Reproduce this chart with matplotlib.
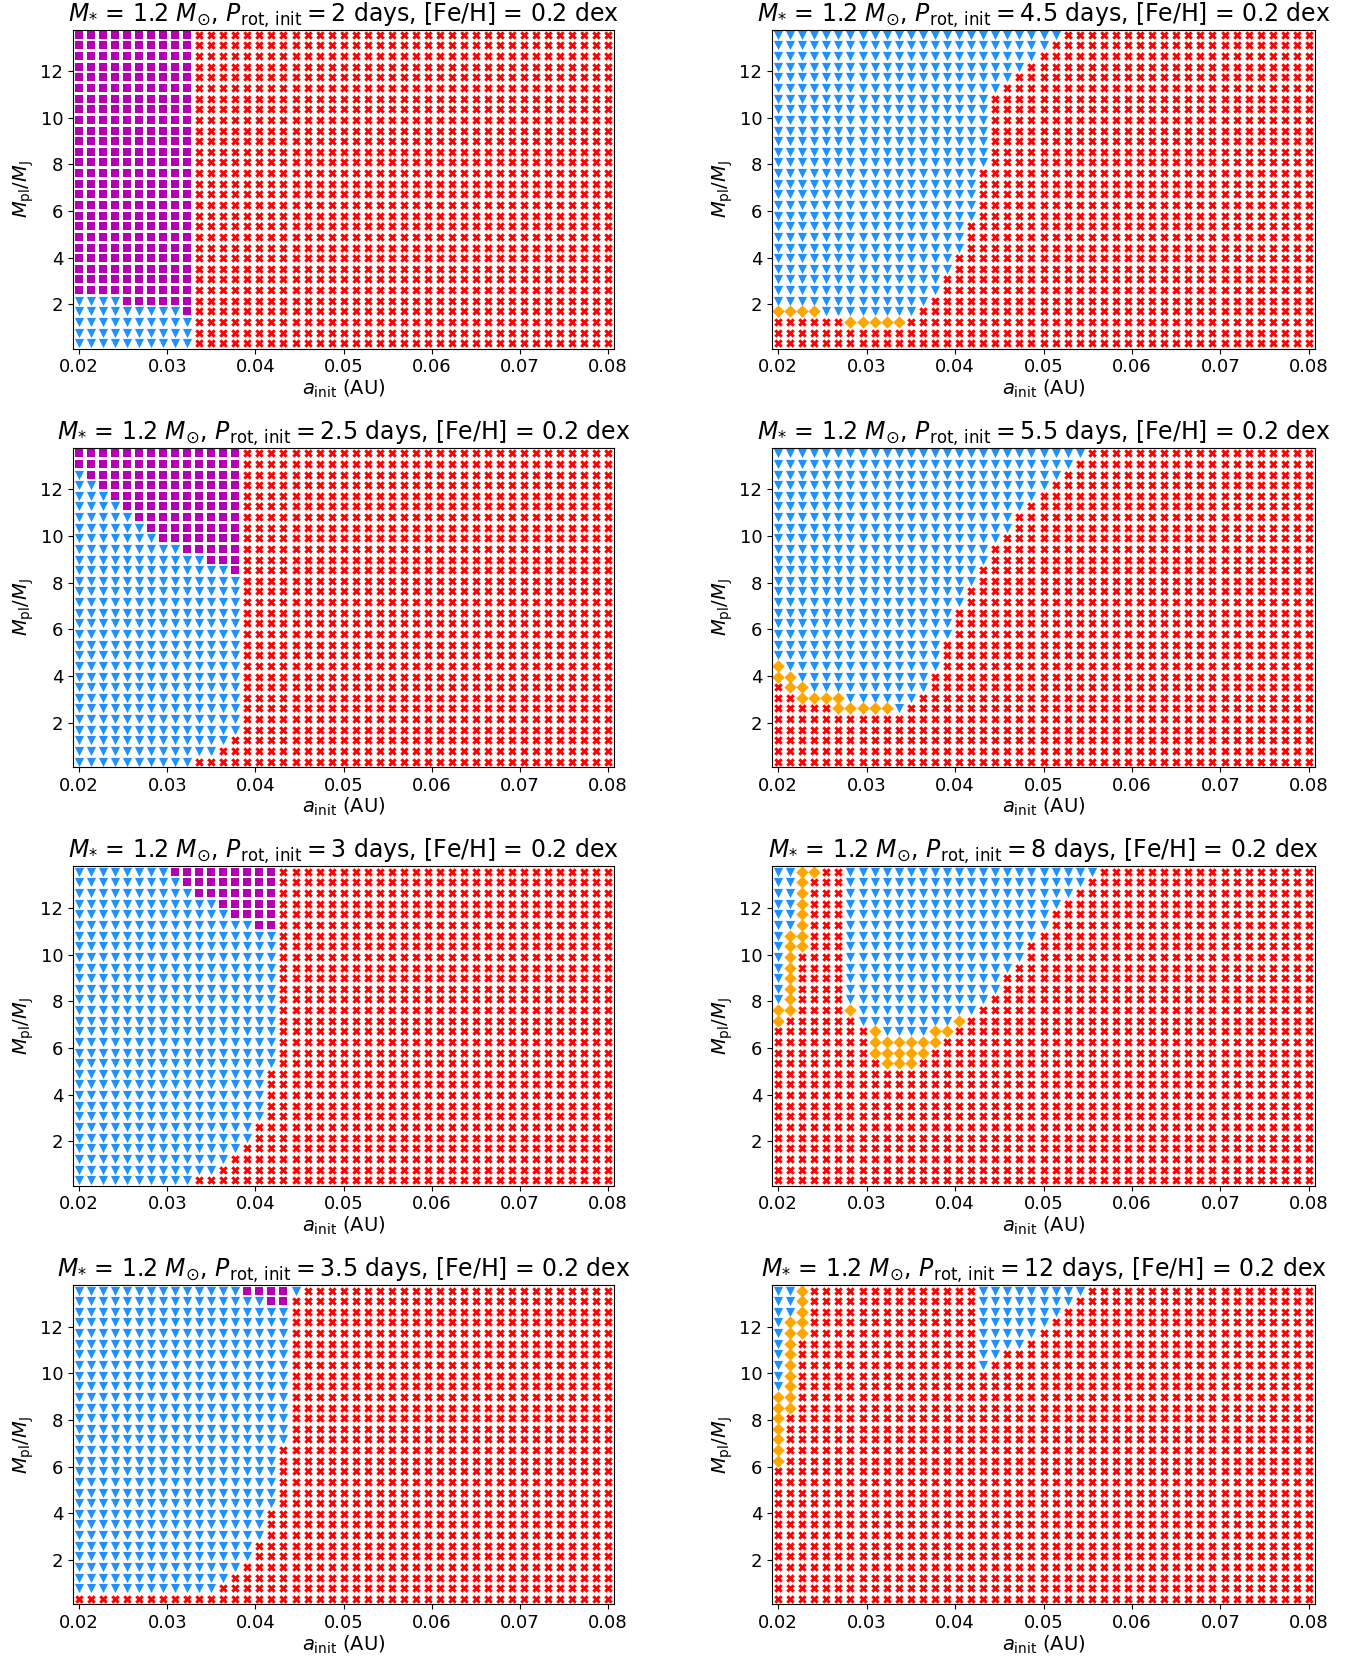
import numpy as np
import matplotlib
matplotlib.use("Agg")
import matplotlib.pyplot as plt

# grid of initial semi-major axes (AU) and planet masses (M_J)
a_init = np.linspace(0.02, 0.08, 45)
m_pl = np.linspace(0.33, 13.55, 30)

# outcome per grid row, top row first: (number of rows, runs of columns from a=0.02)
# P = purple square, B = blue triangle, O = orange diamond, R = red cross
# columns not listed are red crosses
grid_p2 = [(25, "P10"), (1, "B4 P6"), (1, "B9 P1"), (3, "B10")]

grid_p2_5 = [(2, "P14"), (1, "B1 P13"), (1, "B2 P12"), (1, "B3 P11"), (1, "B4 P10"),
             (1, "B5 P9"), (1, "B6 P8"), (1, "B7 P7"), (1, "B9 P5"), (1, "B11 P3"),
             (1, "B13 P1"), (15, "B14"), (1, "B13"), (1, "B12"), (1, "B10")]

grid_p3 = [(1, "B8 P9"), (1, "B9 P8"), (1, "B10 P7"), (1, "B12 P5"), (1, "B13 P4"),
           (1, "B15 P2"), (13, "B17"), (5, "B16"), (2, "B15"), (1, "B14"),
           (1, "B13"), (1, "B12"), (1, "B10")]

grid_p3_5 = [(1, "B14 P4 B1"), (1, "B16 P2"), (13, "B18"), (6, "B17"), (3, "B16"),
             (2, "B15"), (1, "B14"), (1, "B13"), (1, "B12"), (1, "")]

grid_p4_5 = [(1, "B24"), (1, "B23"), (1, "B22"), (1, "B21"), (1, "B20"), (1, "B19"),
             (7, "B18"), (5, "B17"), (3, "B16"), (2, "B15"), (2, "B14"), (1, "B13"),
             (1, "O4 B8"), (1, "R6 O5"), (2, "")]

grid_p5_5 = [(1, "B26"), (1, "B25"), (1, "B24"), (1, "B23"), (1, "B22"), (1, "B21"),
             (2, "B20"), (1, "B19"), (2, "B18"), (2, "B17"), (2, "B16"), (3, "B15"),
             (2, "B14"), (1, "O1 B13"), (1, "O2 B11"), (1, "R1 O2 B10"),
             (1, "R2 O4 B6"), (1, "R5 O5 B1"), (5, "")]

grid_p8 = [(1, "B2 O2 R2 B21"), (1, "B2 O1 R3 B20"), (1, "B2 O1 R3 B19"),
           (1, "B2 O1 R3 B18"), (2, "B2 O1 R3 B17"), (1, "B1 O2 R3 B16"),
           (1, "B1 O2 R3 B15"), (1, "B1 O1 R4 B15"), (1, "B1 O1 R4 B14"),
           (2, "B1 O1 R4 B13"), (1, "B1 O1 R4 B12"), (1, "O2 R4 O1 B10"),
           (1, "O1 R6 B8 O1"), (1, "R8 O1 B4 O2"), (1, "R8 O6"), (1, "R8 O5"),
           (1, "R9 O3"), (11, "")]

grid_p12 = [(1, "B2 O1 R14 B9"), (1, "B2 O1 R14 B8"), (1, "B2 O1 R14 B7"),
            (1, "B1 O2 R14 B6"), (1, "B1 O2 R14 B5"), (1, "B1 O1 R15 B4"),
            (1, "B1 O1 R15 B2"), (1, "B1 O1 R15 B1"), (2, "B1 O1"), (2, "O2"),
            (5, "O1"), (13, "")]

p_rot_left = ["2", "2.5", "3", "3.5"]
p_rot_right = ["4.5", "5.5", "8", "12"]
grids_left = [grid_p2, grid_p2_5, grid_p3, grid_p3_5]
grids_right = [grid_p4_5, grid_p5_5, grid_p8, grid_p12]

styles = {
    "P": dict(marker="s", color="#b300b3", s=34),
    "B": dict(marker="v", color="#1e90ff", s=44),
    "O": dict(marker="D", color="#ffa500", s=40),
    "R": dict(marker="X", color="#ff0000", s=38),
}


def expand(spec):
    rows = []
    for n, runs in spec:
        row = []
        for r in runs.split():
            row += [r[0]] * int(r[1:])
        row += ["R"] * (len(a_init) - len(row))
        rows += [row] * n
    return np.array(rows)[::-1]  # bottom row first


def draw_panel(ax, spec, prot):
    codes = expand(spec)
    xx, yy = np.meshgrid(a_init, m_pl)
    for c in ["R", "B", "P", "O"]:
        sel = codes == c
        ax.scatter(xx[sel], yy[sel], linewidths=0, **styles[c])
    dx = (a_init[1] - a_init[0]) / 2
    dy = (m_pl[1] - m_pl[0]) / 2
    ax.set_xlim(a_init[0] - dx, a_init[-1] + dx)
    ax.set_ylim(m_pl[0] - dy, m_pl[-1] + dy)
    ax.set_xticks([0.02, 0.03, 0.04, 0.05, 0.06, 0.07, 0.08])
    ax.set_xticklabels(["0.02", "0.03", "0.04", "0.05", "0.06", "0.07", "0.08"])
    ax.set_yticks([2, 4, 6, 8, 10, 12])
    ax.tick_params(labelsize=13)
    ax.set_xlabel(r"$a_{\rm init}$ (AU)", fontsize=14, labelpad=1)
    ax.set_ylabel(r"$M_{\rm pl}/M_{\rm J}$", fontsize=14, labelpad=3)
    ax.set_title(r"$M_{*}$ = 1.2 $M_{\odot}$, $P_{\rm rot,\,init} = " + prot +
                 r"$ days, [Fe/H] = 0.2 dex", fontsize=17, pad=4)


fig = plt.figure(figsize=(13.63, 16.59), dpi=100)
bottoms = [0.7899, 0.5377, 0.2854, 0.033]
for i in range(4):
    axl = fig.add_axes([0.0536, bottoms[i], 0.397, 0.1923])
    draw_panel(axl, grids_left[i], p_rot_left[i])
    axr = fig.add_axes([0.5664, bottoms[i], 0.3984, 0.1923])
    draw_panel(axr, grids_right[i], p_rot_right[i])

plt.savefig("out.png", dpi=100)
